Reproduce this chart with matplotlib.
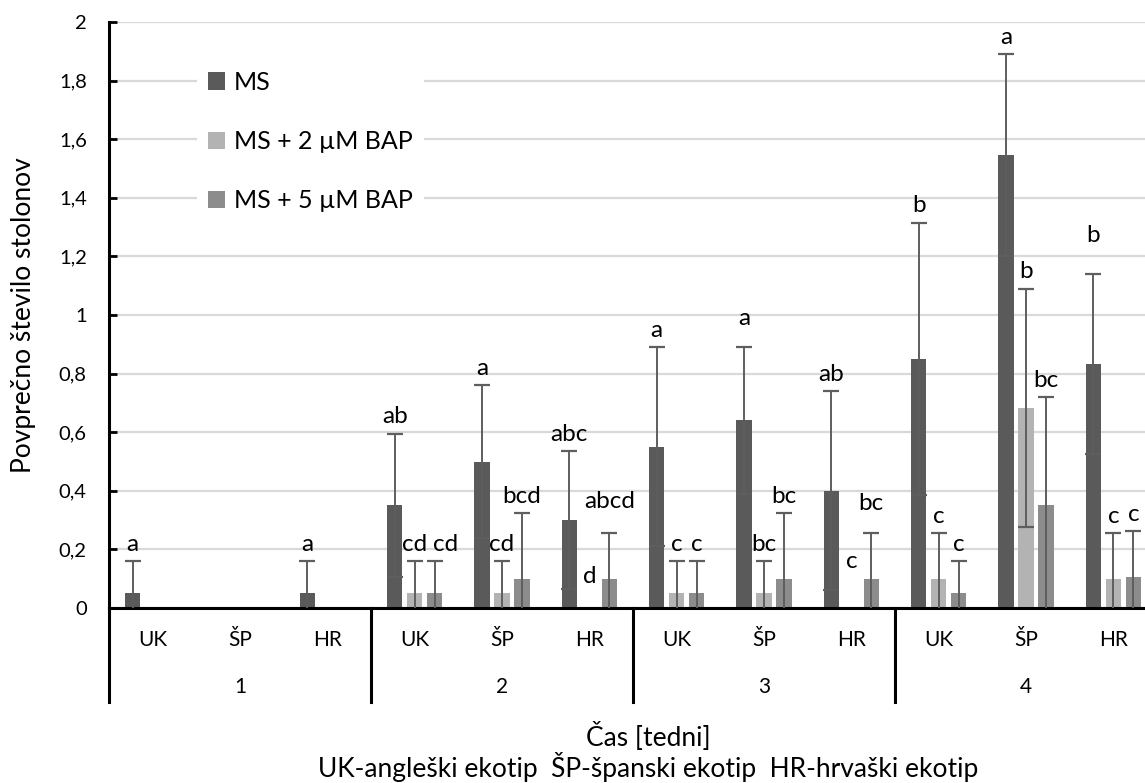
import matplotlib
matplotlib.use("Agg")
import matplotlib.pyplot as plt
import matplotlib.transforms as mtransforms
from matplotlib.patches import Patch
import numpy as np

plt.rcParams['font.family'] = ['Lato', 'DejaVu Sans']

# data
weeks = ['1', '2', '3', '4']
ecotypes = ['UK', 'ŠP', 'HR']
series = ['MS', 'MS + 2 µM BAP', 'MS + 5 µM BAP']

# values per group: week1 UK, ŠP, HR, week2 UK, ŠP, HR, ...
ms_mean = [0.05, 0.0, 0.05, 0.35, 0.50, 0.30, 0.55, 0.64, 0.40, 0.85, 1.545, 0.833]
ms_err = [0.11, 0.0, 0.11, 0.245, 0.26, 0.235, 0.34, 0.25, 0.34, 0.465, 0.345, 0.307]
bap2_mean = [0.0, 0.0, 0.0, 0.05, 0.05, 0.0, 0.05, 0.05, 0.0, 0.10, 0.683, 0.10]
bap2_err = [0.0, 0.0, 0.0, 0.11, 0.11, 0.0, 0.11, 0.11, 0.0, 0.155, 0.407, 0.155]
bap5_mean = [0.0, 0.0, 0.0, 0.05, 0.10, 0.10, 0.05, 0.10, 0.10, 0.05, 0.35, 0.105]
bap5_err = [0.0, 0.0, 0.0, 0.11, 0.225, 0.155, 0.11, 0.225, 0.155, 0.11, 0.37, 0.157]

ms_letters = ['a', '', 'a', 'ab', 'a', 'abc', 'a', 'a', 'ab', 'b', 'a', 'b']
bap2_letters = ['', '', '', 'cd', 'cd', 'd', 'c', 'bc', 'c', 'c', 'b', 'c']
bap5_letters = ['', '', '', 'cd', 'bcd', 'abcd', 'c', 'bc', 'bc', 'c', 'bc', 'c']

means = [ms_mean, bap2_mean, bap5_mean]
errs = [ms_err, bap2_err, bap5_err]
letters = [ms_letters, bap2_letters, bap5_letters]
colors = ['#5a5a5a', '#b3b3b3', '#8c8c8c']

# some letters were moved by hand in the original chart
letter_nudge = {(1, 5): 0.05, (2, 5): 0.05, (0, 7): 0.04, (1, 8): 0.1,
                (2, 8): 0.045, (0, 11): 0.075}
letter_shift_x = {(2, 3): 0.13}

fig = plt.figure(figsize=(11.45, 7.83), dpi=100)
ax = fig.add_axes([109/1145, 175/783, 1048/1145, 586/783])

n = len(ms_mean)
x = np.arange(n)
bar_w = 0.172
step = 0.229

for k in range(3):
    xs = x + (k - 1) * step
    ax.bar(xs, means[k], width=bar_w, color=colors[k], zorder=2, label=series[k])
    m = np.array(means[k])
    e = np.array(errs[k])
    has = e > 0
    ax.errorbar(xs[has], m[has], yerr=e[has], fmt='none', ecolor='#5e5e5e',
                elinewidth=1.4, capsize=5.5, capthick=1.6, zorder=3)
    for i in range(n):
        if letters[k][i]:
            y = m[i] + e[i] + 0.035 + letter_nudge.get((k, i), 0)
            ax.text(xs[i] + letter_shift_x.get((k, i), 0), y, letters[k][i],
                    ha='center', va='baseline', fontsize=17.5, zorder=4)

ax.set_xlim(-0.5, n - 0.5)
ax.set_ylim(0, 2)
ax.set_yticks(np.arange(0, 2.01, 0.2))
ax.set_yticklabels(['0', '0,2', '0,4', '0,6', '0,8', '1', '1,2', '1,4', '1,6', '1,8', '2'])
ax.tick_params(axis='y', direction='in', length=6, width=2, pad=16, labelsize=14.5)
ax.set_xticks([])
ax.yaxis.grid(True, color='#d9d9d9', linewidth=1.6, zorder=0)
ax.set_axisbelow(True)
for s in ['top', 'right']:
    ax.spines[s].set_visible(False)
ax.spines['left'].set_linewidth(2.2)
ax.spines['bottom'].set_linewidth(2.2)

# multi-level category axis
trans = mtransforms.blended_transform_factory(ax.transData, ax.transAxes)
for b in np.arange(-0.5, n, 3):
    ax.plot([b, b], [0, -94/586], color='black', lw=2.2, transform=trans, clip_on=False)
for i in range(n):
    ax.text(i, -32/586, ecotypes[i % 3], ha='center', va='center', fontsize=15,
            transform=trans)
for w in range(len(weeks)):
    ax.text(3*w + 1, -79/586, weeks[w], ha='center', va='center', fontsize=15,
            transform=trans)

fig.text(648/1145, 1 - 737/783, 'Čas [tedni]', ha='center', va='center', fontsize=19)
fig.text(648/1145, 1 - 767/783, 'UK-angleški ekotip  ŠP-španski ekotip  HR-hrvaški ekotip',
         ha='center', va='center', fontsize=19)
fig.text(24/1145, 1 - 315/783, 'Povprečno število stolonov', rotation=90,
         ha='center', va='center', fontsize=19)

handles = [Patch(facecolor=c) for c in colors]
leg = ax.legend(handles, series, loc='upper left',
                bbox_to_anchor=(184/1145, 1 - 47/783), bbox_transform=fig.transFigure,
                frameon=True, fancybox=False, framealpha=1, edgecolor='none',
                fontsize=18, handlelength=0.7, handleheight=0.7, handletextpad=0.35,
                labelspacing=1.45, borderpad=0.45)
leg.set_zorder(5)

fig.savefig('out.png', dpi=100)
